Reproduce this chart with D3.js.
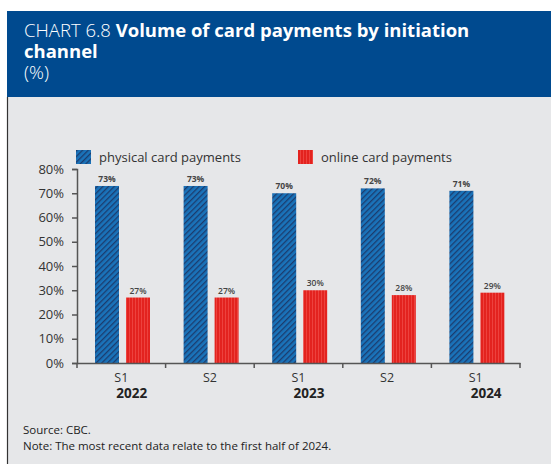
<!DOCTYPE html>
<html><head><meta charset="utf-8">
<script src="https://cdn.jsdelivr.net/npm/d3@7"></script>
<style>
body{margin:0;background:#fff;}
svg{display:block;font-family:"Open Sans",sans-serif;}
</style></head>
<body>
<svg id="c" width="551" height="464"></svg>
<script>
const periods = ["S1","S2","S1","S2","S1"];
const years = ["2022","","2023","","2024"];
const physical = [73,73,70,72,71];
const online = [27,27,30,28,29];
const seriesNames = ["physical card payments","online card payments"];
const yTicks = [0,10,20,30,40,50,60,70,80];

const svg = d3.select("#c");
const defs = svg.append("defs");
const hatch = defs.append("pattern").attr("id","hatch").attr("patternUnits","userSpaceOnUse")
  .attr("width",4).attr("height",4).attr("patternTransform","rotate(45)");
hatch.append("rect").attr("width",4).attr("height",4).attr("fill","#1a73ba");
hatch.append("rect").attr("width",1.3).attr("height",4).attr("fill","#1b3c6e");
const stripe = defs.append("pattern").attr("id","stripe").attr("patternUnits","userSpaceOnUse")
  .attr("width",3).attr("height",3);
stripe.append("rect").attr("width",3).attr("height",3).attr("fill","#e3231f");
stripe.append("rect").attr("width",0.8).attr("height",3).attr("fill","#f04a45");

// panels
svg.append("rect").attr("x",7).attr("y",97).attr("width",544).attr("height",367).attr("fill","#e6e7e9");
svg.append("line").attr("x1",7.5).attr("x2",7.5).attr("y1",97).attr("y2",464).attr("stroke","#333").attr("stroke-width",1.2);
svg.append("rect").attr("x",7).attr("y",11).attr("width",544).attr("height",86).attr("fill","#004a8f");

const tfs = 18.5;
const t1 = svg.append("text").attr("x",24).attr("y",37).attr("fill","#fff").attr("font-size",tfs);
t1.append("tspan").text("CHART 6.8 ").attr("font-weight",300);
t1.append("tspan").text("Volume of card payments by initiation").attr("font-weight",700);
svg.append("text").attr("x",24).attr("y",58).attr("fill","#fff").attr("font-size",tfs).attr("font-weight",700).text("channel");
svg.append("text").attr("x",24).attr("y",79).attr("fill","#fff").attr("font-size",tfs).attr("font-weight",300).text("(%)");

const x = d3.scaleBand().domain(d3.range(periods.length)).range([77,520]);
const y = d3.scaleLinear().domain([0,80]).range([363,169]);

// y axis
const yAxis = svg.append("g").attr("transform","translate(77,0)")
  .call(d3.axisLeft(y).tickValues(yTicks).tickFormat(d=>d+"%").tickSize(5).tickPadding(8));
yAxis.select(".domain").attr("stroke","#555").attr("stroke-width",1.5);
yAxis.selectAll(".tick line").attr("stroke","#555").attr("stroke-width",1.5);
yAxis.selectAll(".tick text").attr("font-size",13).attr("fill","#333").attr("font-family","Open Sans");

// bars
const bw = 24;
const g = svg.append("g");
g.selectAll(".phys").data(physical).join("rect")
  .attr("x",(d,i)=>x(i)+18).attr("width",bw)
  .attr("y",d=>y(d)).attr("height",d=>y(0)-y(d)).attr("fill","url(#hatch)");
g.selectAll(".onl").data(online).join("rect")
  .attr("x",(d,i)=>x(i)+49).attr("width",bw)
  .attr("y",d=>y(d)).attr("height",d=>y(0)-y(d)).attr("fill","url(#stripe)");
g.selectAll(".pl").data(physical).join("text")
  .attr("x",(d,i)=>x(i)+18+bw/2).attr("y",d=>y(d)-4).attr("text-anchor","middle")
  .attr("font-size",8.5).attr("font-weight",700).attr("fill","#444").text(d=>d+"%");
g.selectAll(".ol").data(online).join("text")
  .attr("x",(d,i)=>x(i)+49+bw/2).attr("y",d=>y(d)-4).attr("text-anchor","middle")
  .attr("font-size",8.5).attr("font-weight",600).attr("fill","#444").text(d=>d+"%");

// x axis
const xAxis = svg.append("g").attr("transform","translate(0,363)")
  .call(d3.axisBottom(x).tickSize(0).tickFormat(i=>periods[i]).tickPadding(10));
xAxis.select(".domain").attr("stroke","#555").attr("stroke-width",1.5);
xAxis.selectAll(".tick text").attr("font-size",12.5).attr("fill","#333").attr("font-family","Open Sans");
const bounds = d3.range(periods.length+1).map(i=> i<periods.length ? x(i) : x(periods.length-1)+x.bandwidth());
svg.append("g").selectAll("line").data(bounds).join("line")
  .attr("x1",d=>d).attr("x2",d=>d).attr("y1",363).attr("y2",368).attr("stroke","#555").attr("stroke-width",1.5);
svg.append("g").selectAll("text").data(years).join("text")
  .attr("x",(d,i)=>x(i)+x.bandwidth()/2-5).attr("y",398).attr("font-size",13.5).attr("font-weight",700)
  .attr("fill","#222").text(d=>d);

// legend
const leg = [{x:76,c:"url(#hatch)",t:seriesNames[0]},{x:298,c:"url(#stripe)",t:seriesNames[1]}];
const lg = svg.append("g").selectAll("g").data(leg).join("g");
lg.append("rect").attr("x",d=>d.x).attr("y",150).attr("width",15).attr("height",14).attr("fill",d=>d.c);
lg.append("text").attr("x",d=>d.x+23).attr("y",162).attr("font-size",13).attr("fill","#333").text(d=>d.t);

// footer
svg.append("text").attr("x",23).attr("y",434).attr("font-size",11.5).attr("fill","#222").text("Source: CBC.");
svg.append("text").attr("x",23).attr("y",450).attr("font-size",11.5).attr("fill","#222").text("Note: The most recent data relate to the first half of 2024.");
</script>
</body></html>
